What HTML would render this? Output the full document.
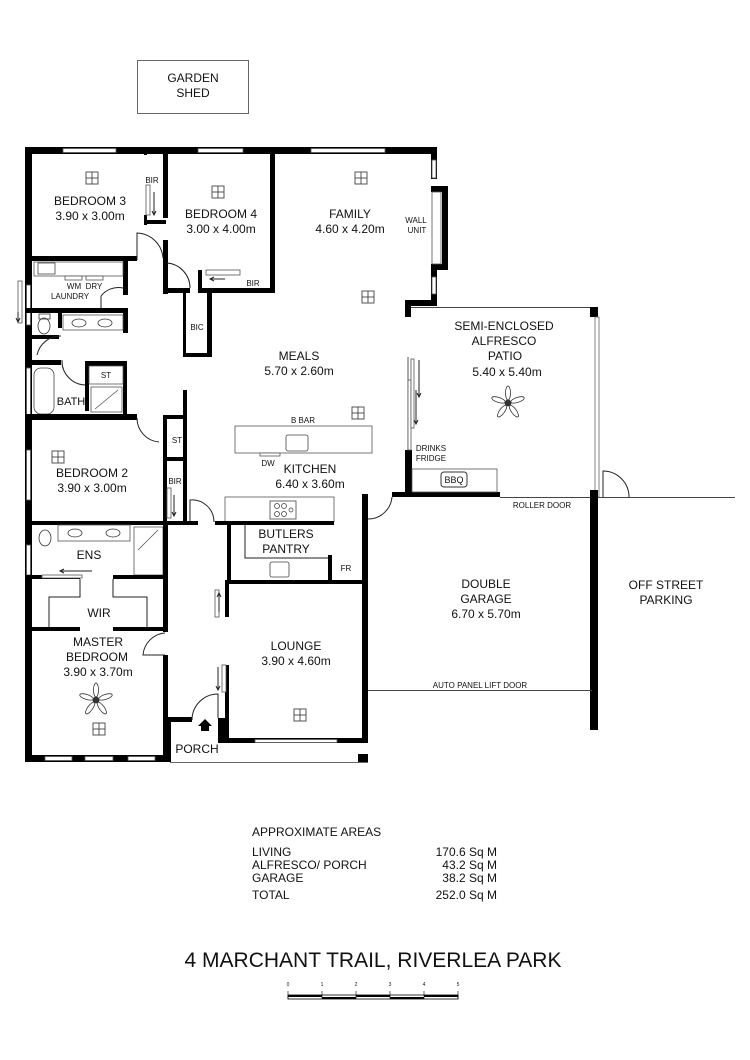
<!DOCTYPE html>
<html><head><meta charset="utf-8"><style>
html,body{margin:0;padding:0;background:#fff}
svg{display:block}
text{font-family:"Liberation Sans",Arial,sans-serif;fill:#111}
.t{font-size:12px;text-anchor:middle}
.s{font-size:8px;text-anchor:middle}
.w{fill:#000}
.l{fill:none;stroke:#222;stroke-width:1}
.win{fill:#fff;stroke:#555;stroke-width:0.8}
</style></head><body>
<svg width="750" height="1060" viewBox="0 0 750 1060" xmlns="http://www.w3.org/2000/svg">
<defs>
<g id="sq"><rect x="-6" y="-6" width="12" height="12" fill="#fff" stroke="#444" stroke-width="0.9"/><line x1="0" y1="-6" x2="0" y2="6" stroke="#444" stroke-width="0.9"/><line x1="-6" y1="0" x2="6" y2="0" stroke="#444" stroke-width="0.9"/></g>
<g id="fan" stroke="#333" stroke-width="0.8" fill="#fff">
<ellipse cx="0" cy="-10" rx="2.5" ry="7"/><ellipse cx="0" cy="-10" rx="2.5" ry="7" transform="rotate(72)"/><ellipse cx="0" cy="-10" rx="2.5" ry="7" transform="rotate(144)"/><ellipse cx="0" cy="-10" rx="2.5" ry="7" transform="rotate(216)"/><ellipse cx="0" cy="-10" rx="2.5" ry="7" transform="rotate(288)"/><circle r="3" fill="#333"/></g>
</defs>

<!-- Garden shed -->
<rect x="137.5" y="60.5" width="111" height="53" fill="none" stroke="#666"/>
<text class="t" x="193" y="82">GARDEN</text><text class="t" x="193" y="97">SHED</text>

<!-- TOP WALL -->
<rect class="w" x="25" y="147" width="412" height="7"/>
<rect class="win" x="63" y="148.5" width="53" height="4"/>
<rect class="win" x="198" y="148.5" width="45" height="4"/>
<rect class="win" x="311" y="148.5" width="74" height="4"/>
<!-- left wall -->
<rect class="w" x="25" y="147" width="7" height="615"/>
<rect class="win" x="26.5" y="285" width="4" height="40"/>
<rect class="win" x="26.5" y="368" width="4" height="50"/>
<rect class="win" x="26.5" y="450" width="4" height="50"/>
<rect class="win" x="26.5" y="545" width="4" height="30"/>
<!-- family right wall + bay -->
<rect class="w" x="431" y="147" width="6" height="32"/>
<rect class="win" x="432" y="160" width="4" height="18"/>
<rect class="w" x="431" y="186" width="17" height="6"/>
<rect class="w" x="442" y="186" width="6" height="84"/>
<rect class="w" x="431" y="264" width="17" height="6"/>
<rect class="win" x="432" y="192" width="9" height="72"/>
<rect class="w" x="431" y="270" width="6" height="36"/>
<rect class="win" x="432" y="277" width="4" height="17"/>
<rect class="w" x="405" y="300" width="32" height="6"/>
<rect class="w" x="405" y="300" width="6" height="17"/>

<!-- Bedroom 3 -->
<rect class="w" x="25" y="256" width="112" height="5"/>
<rect class="w" x="163" y="150" width="5" height="68"/>
<rect class="w" x="163" y="240" width="5" height="54"/>
<rect class="w" x="144" y="150" width="3" height="5"/>
<rect class="w" x="144" y="215" width="3" height="10"/>
<rect class="w" x="144" y="220" width="22" height="4"/>
<rect class="win" x="146" y="185" width="4" height="30"/>
<path class="l" d="M154 192 V215 M152 211 L154 215 L156 211"/>
<text class="s" x="152" y="183">BIR</text>
<use href="#sq" x="92" y="178"/>
<text class="t" x="90" y="205">BEDROOM 3</text>
<text class="t" x="90" y="220">3.90 x 3.00m</text>
<!-- door arc bed3 -->
<path class="l" d="M137 260 V233 A27 27 0 0 1 163 258"/>

<!-- Bedroom 4 -->
<rect class="w" x="270" y="150" width="5" height="143"/>
<rect class="w" x="198" y="288" width="77" height="5"/>
<rect class="w" x="165" y="288" width="25" height="5"/>
<rect class="w" x="198" y="270" width="4" height="22"/>
<rect class="win" x="206" y="270" width="34" height="5"/>
<path class="l" d="M225 279 H210 M214 277 L210 279 L214 281"/>
<text class="s" x="253" y="286">BIR</text>
<path class="l" d="M167 263 A25 25 0 0 1 190 288"/>
<use href="#sq" x="218" y="192"/>
<text class="t" x="221" y="218">BEDROOM 4</text>
<text class="t" x="221" y="233">3.00 x 4.00m</text>

<!-- BIC -->
<rect class="w" x="183" y="293" width="3" height="64"/>
<rect class="w" x="207" y="293" width="5" height="64"/>
<rect class="w" x="183" y="353" width="29" height="4"/>
<text class="s" x="197" y="330">BIC</text>

<!-- Family -->
<use href="#sq" x="361" y="178"/>
<text class="t" x="350" y="218">FAMILY</text>
<text class="t" x="350" y="233">4.60 x 4.20m</text>
<text class="s" x="416" y="223">WALL</text><text class="s" x="417" y="233">UNIT</text>
<use href="#sq" x="368" y="297"/>

<!-- Laundry -->
<rect class="w" x="123" y="258" width="5" height="37"/>
<rect class="w" x="123" y="308" width="5" height="25"/>
<rect class="w" x="25" y="308" width="103" height="5"/>
<rect x="34" y="262" width="89" height="14" fill="#fff" stroke="#555" stroke-width="0.8"/>
<rect x="38" y="263" width="17" height="11" fill="#fff" stroke="#444" stroke-width="0.8"/>
<rect x="65" y="276" width="17" height="4" fill="#fff" stroke="#555" stroke-width="0.8"/>
<rect x="86" y="276" width="17" height="4" fill="#fff" stroke="#555" stroke-width="0.8"/>
<text class="s" x="74" y="289">WM</text><text class="s" x="94" y="289">DRY</text>
<text class="s" x="70" y="299">LAUNDRY</text>
<path class="l" d="M101 308 V296 A22 22 0 0 1 123 288"/>
<rect class="win" x="18" y="281" width="4" height="42"/>
<path class="l" d="M18 322 V312 M16 318 L18 322 L20 318"/>

<!-- WC area -->
<rect class="w" x="58" y="313" width="4" height="15"/>
<rect x="63" y="315" width="60" height="15" fill="#fff" stroke="#555" stroke-width="0.8"/>
<ellipse cx="79" cy="323" rx="7" ry="4" fill="none" stroke="#333" stroke-width="0.8"/>
<ellipse cx="105" cy="323" rx="7" ry="4" fill="none" stroke="#333" stroke-width="0.8"/>
<ellipse cx="44" cy="326" rx="6" ry="8" fill="none" stroke="#333" stroke-width="0.8"/>
<rect x="39" y="314" width="11" height="5" fill="none" stroke="#333" stroke-width="0.8"/>
<rect class="w" x="25" y="335" width="34" height="4"/>
<rect class="w" x="25" y="360" width="36" height="5"/>
<path class="l" d="M37 355 A24 24 0 0 1 61 336"/>
<path class="l" d="M62 360 A24 24 0 0 0 86 385"/>

<!-- Bath -->
<rect class="w" x="85" y="361" width="42" height="5"/>
<rect class="w" x="85" y="361" width="4" height="50"/>
<rect class="w" x="123" y="361" width="4" height="53"/>
<rect x="89" y="366" width="34" height="18" fill="#fff" stroke="#555" stroke-width="0.8"/>
<text class="s" x="106" y="378">ST</text>
<rect x="91" y="387" width="31" height="25" fill="#fff" stroke="#555" stroke-width="0.8"/>
<line x1="95" y1="409" x2="118" y2="390" stroke="#555" stroke-width="0.8"/>
<rect x="34" y="368" width="20" height="46" rx="7" fill="#fff" stroke="#444" stroke-width="0.8"/>
<text class="t" x="71" y="405" style="font-size:11px">BATH</text>
<rect class="w" x="25" y="414" width="112" height="6"/>
<path class="l" d="M137 418 A24 24 0 0 0 159 442"/>

<!-- ST + bed2 -->
<rect class="w" x="183" y="390" width="4" height="132"/>
<rect class="w" x="163" y="415" width="4" height="107"/>
<rect class="w" x="163" y="415" width="22" height="4"/>
<rect class="w" x="163" y="457" width="22" height="4"/>
<text class="s" x="177" y="443">ST</text>
<text class="s" x="175" y="484">BIR</text>
<rect class="win" x="167" y="488" width="4" height="30"/>
<path class="l" d="M174 495 V516 M172 512 L174 516 L176 512"/>
<use href="#sq" x="58" y="457"/>
<text class="t" x="92" y="477">BEDROOM 2</text>
<text class="t" x="92" y="492">3.90 x 3.00m</text>
<rect class="w" x="25" y="521" width="165" height="4"/>
<path class="l" d="M190 521 V500 A22 22 0 0 1 214 522"/>

<!-- Ens -->
<rect x="58" y="525" width="72" height="16" fill="#fff" stroke="#555" stroke-width="0.8"/>
<ellipse cx="75" cy="533" rx="7" ry="4" fill="none" stroke="#333" stroke-width="0.8"/>
<ellipse cx="113" cy="533" rx="7" ry="4" fill="none" stroke="#333" stroke-width="0.8"/>
<ellipse cx="45" cy="538" rx="6" ry="8" fill="none" stroke="#333" stroke-width="0.8"/>
<rect x="134" y="527" width="29" height="48" fill="#fff" stroke="#555" stroke-width="0.8"/>
<line x1="138" y1="550" x2="158" y2="530" stroke="#555" stroke-width="0.8"/>
<text class="t" x="89" y="559">ENS</text>
<rect class="w" x="25" y="575" width="55" height="4"/>
<rect class="w" x="113" y="575" width="54" height="4"/>
<rect class="win" x="42" y="575" width="40" height="3"/>
<path class="l" d="M92 571 H60 M64 569 L60 571 L64 573"/>
<path class="l" d="M80 579 V597 H49 V628 M113 579 V597 H147 V628"/>
<text class="t" x="99" y="617">WIR</text>
<rect class="w" x="25" y="627" width="55" height="4"/>
<rect class="w" x="113" y="627" width="54" height="4"/>
<rect class="w" x="163" y="522" width="5" height="110"/>
<rect class="w" x="163" y="655" width="5" height="107"/>
<path class="l" d="M165 633 A24 24 0 0 0 143 655 H165"/>
<text class="t" x="98" y="646">MASTER</text>
<text class="t" x="97" y="661">BEDROOM</text>
<text class="t" x="98" y="676">3.90 x 3.70m</text>
<use href="#fan" x="96" y="700"/>
<use href="#sq" x="99" y="729"/>
<rect class="w" x="25" y="755" width="145" height="7"/>
<rect class="win" x="45" y="756.5" width="27" height="4"/>
<rect class="win" x="85" y="756.5" width="28" height="4"/>
<rect class="win" x="128" y="756.5" width="27" height="4"/>

<!-- Porch -->
<rect class="w" x="167" y="717" width="25" height="5"/>
<rect class="w" x="167" y="717" width="4" height="45"/>
<line x1="170" y1="762.5" x2="368" y2="762.5" stroke="#666"/>
<rect class="w" x="358" y="754" width="10" height="8"/>
<path d="M201 731 V726 H198 L205 719 L212 726 H209 V731 Z" fill="#000"/>
<text class="t" x="197" y="753">PORCH</text>
<path class="l" d="M192 720 A26 26 0 0 1 218 694 V718"/>

<!-- Lounge -->
<rect class="w" x="225" y="580" width="142" height="4"/>
<rect class="w" x="225" y="580" width="4" height="37"/>
<rect class="w" x="225" y="665" width="4" height="78"/>
<rect class="w" x="218" y="718" width="11" height="25"/>
<rect class="win" x="215" y="590" width="4" height="27"/>
<path class="l" d="M219 612 V593 M217 597 L219 593 L221 597"/>
<rect class="win" x="222" y="665" width="4" height="27"/>
<path class="l" d="M218 667 V690 M216 686 L218 690 L220 686"/>
<rect class="w" x="222" y="738" width="146" height="5"/>
<rect class="win" x="255" y="739.5" width="82" height="3"/>
<rect class="w" x="362" y="494" width="6" height="249"/>
<use href="#sq" x="300" y="715"/>
<text class="t" x="296" y="650">LOUNGE</text>
<text class="t" x="296" y="665">3.90 x 4.60m</text>

<!-- Kitchen -->
<rect x="235" y="426" width="137" height="27" fill="#fff" stroke="#555" stroke-width="0.8"/>
<rect x="286" y="435" width="22" height="16" rx="2" fill="#fff" stroke="#444" stroke-width="0.8"/>
<rect x="260" y="453" width="20" height="3" fill="#fff" stroke="#555" stroke-width="0.8"/>
<text class="s" x="303" y="423">B BAR</text>
<text class="s" x="268" y="466">DW</text>
<text class="t" x="310" y="473">KITCHEN</text>
<text class="t" x="310" y="488">6.40 x 3.60m</text>
<use href="#sq" x="358" y="413"/>
<rect x="225" y="497" width="109" height="25" fill="#fff" stroke="#555" stroke-width="0.8"/>
<rect x="270" y="501" width="26" height="18" fill="#fff" stroke="#444" stroke-width="0.8"/>
<circle cx="277" cy="506" r="2.5" fill="none" stroke="#333" stroke-width="0.7"/><circle cx="284" cy="506" r="2.5" fill="none" stroke="#333" stroke-width="0.7"/><circle cx="277" cy="514" r="2.5" fill="none" stroke="#333" stroke-width="0.7"/><circle cx="284" cy="514" r="2.5" fill="none" stroke="#333" stroke-width="0.7"/><circle cx="291" cy="510" r="2" fill="none" stroke="#333" stroke-width="0.7"/>
<rect class="w" x="215" y="521" width="119" height="4"/>
<rect class="w" x="190" y="521" width="8" height="4"/>
<rect class="w" x="227" y="521" width="4" height="62"/>
<rect class="w" x="328" y="555" width="4" height="28"/>
<path class="l" d="M245 525 V558 H328"/>
<rect x="270" y="562" width="19" height="15" rx="2" fill="#fff" stroke="#444" stroke-width="0.8"/>
<text class="t" x="286" y="538">BUTLERS</text>
<text class="t" x="286" y="553">PANTRY</text>
<text class="s" x="346" y="571">FR</text>
<path class="l" d="M368 519 A24 24 0 0 0 392 497"/>

<!-- Meals -->
<text class="t" x="299" y="360">MEALS</text>
<text class="t" x="299" y="375">5.70 x 2.60m</text>

<!-- Patio -->
<line x1="411" y1="307.5" x2="598" y2="307.5" stroke="#444"/>
<rect class="w" x="590" y="307" width="8" height="10"/>
<rect x="595" y="317" width="4" height="180" fill="#fff" stroke="#666" stroke-width="0.8"/>
<rect class="w" x="405" y="450" width="7" height="47"/>
<line x1="408" y1="357" x2="408" y2="450" stroke="#555"/>
<rect class="win" x="408" y="380" width="3" height="70"/>
<rect class="win" x="411" y="359" width="3" height="69"/>
<path class="l" d="M419 360 V397 M417 393 L419 397 L421 393 M416 390 V424 M414 420 L416 424 L418 420"/>
<rect class="w" x="392" y="492" width="108" height="5"/>
<rect x="412" y="469" width="85" height="23" fill="#fff" stroke="#555" stroke-width="0.8"/>
<rect x="441" y="472" width="26" height="15" rx="3" fill="#fff" stroke="#333" stroke-width="1"/>
<text class="s" x="454" y="483" style="font-size:9px">BBQ</text>
<text class="s" x="431" y="451">DRINKS</text>
<text class="s" x="431" y="461">FRIDGE</text>
<text class="t" x="504" y="330">SEMI-ENCLOSED</text>
<text class="t" x="504" y="345">ALFRESCO</text>
<text class="t" x="505" y="360">PATIO</text>
<text class="t" x="507" y="376">5.40 x 5.40m</text>
<use href="#fan" x="508" y="403"/>

<!-- Garage -->
<line x1="500" y1="497.5" x2="735" y2="497.5" stroke="#444"/>
<rect class="w" x="590" y="490" width="8" height="240"/>
<line x1="368" y1="690.5" x2="592" y2="690.5" stroke="#444"/>
<text class="s" x="542" y="508">ROLLER DOOR</text>
<text class="s" x="480" y="688">AUTO PANEL LIFT DOOR</text>
<text class="t" x="486" y="588">DOUBLE</text>
<text class="t" x="486" y="603">GARAGE</text>
<text class="t" x="486" y="618">6.70 x 5.70m</text>
<path class="l" d="M603 497 V471 A26 26 0 0 1 629 497"/>
<text class="t" x="666" y="589">OFF STREET</text>
<text class="t" x="666" y="604">PARKING</text>

<!-- Areas -->
<text x="252" y="836" style="font-size:12px">APPROXIMATE AREAS</text>
<text x="252" y="856" style="font-size:12px">LIVING</text>
<text x="252" y="869" style="font-size:12px">ALFRESCO/ PORCH</text>
<text x="252" y="882" style="font-size:12px">GARAGE</text>
<text x="252" y="899" style="font-size:12px">TOTAL</text>
<g style="font-size:12px;text-anchor:end">
<text x="497" y="856">170.6 Sq M</text>
<text x="497" y="869">43.2 Sq M</text>
<text x="497" y="882">38.2 Sq M</text>
<text x="497" y="899">252.0 Sq M</text>
</g>
<text x="373" y="967" style="font-size:21px;text-anchor:middle">4 MARCHANT TRAIL, RIVERLEA PARK</text>
<!-- Scale -->
<g style="font-size:5px;text-anchor:middle">
<text x="288" y="986">0</text><text x="322" y="986">1</text><text x="356" y="986">2</text><text x="390" y="986">3</text><text x="424" y="986">4</text><text x="458" y="986">5</text>
</g>
<rect x="288" y="995" width="170" height="4" fill="#fff" stroke="#000" stroke-width="0.8"/>
<rect x="288" y="995" width="34" height="2" fill="#000"/><rect x="322" y="997" width="34" height="2" fill="#000"/><rect x="356" y="995" width="34" height="2" fill="#000"/><rect x="390" y="997" width="34" height="2" fill="#000"/><rect x="424" y="995" width="34" height="2" fill="#000"/>
<path d="M288 991V999M322 991V999M356 991V999M390 991V999M424 991V999M458 991V999" stroke="#000" stroke-width="0.6"/>
</svg>
</body></html>
